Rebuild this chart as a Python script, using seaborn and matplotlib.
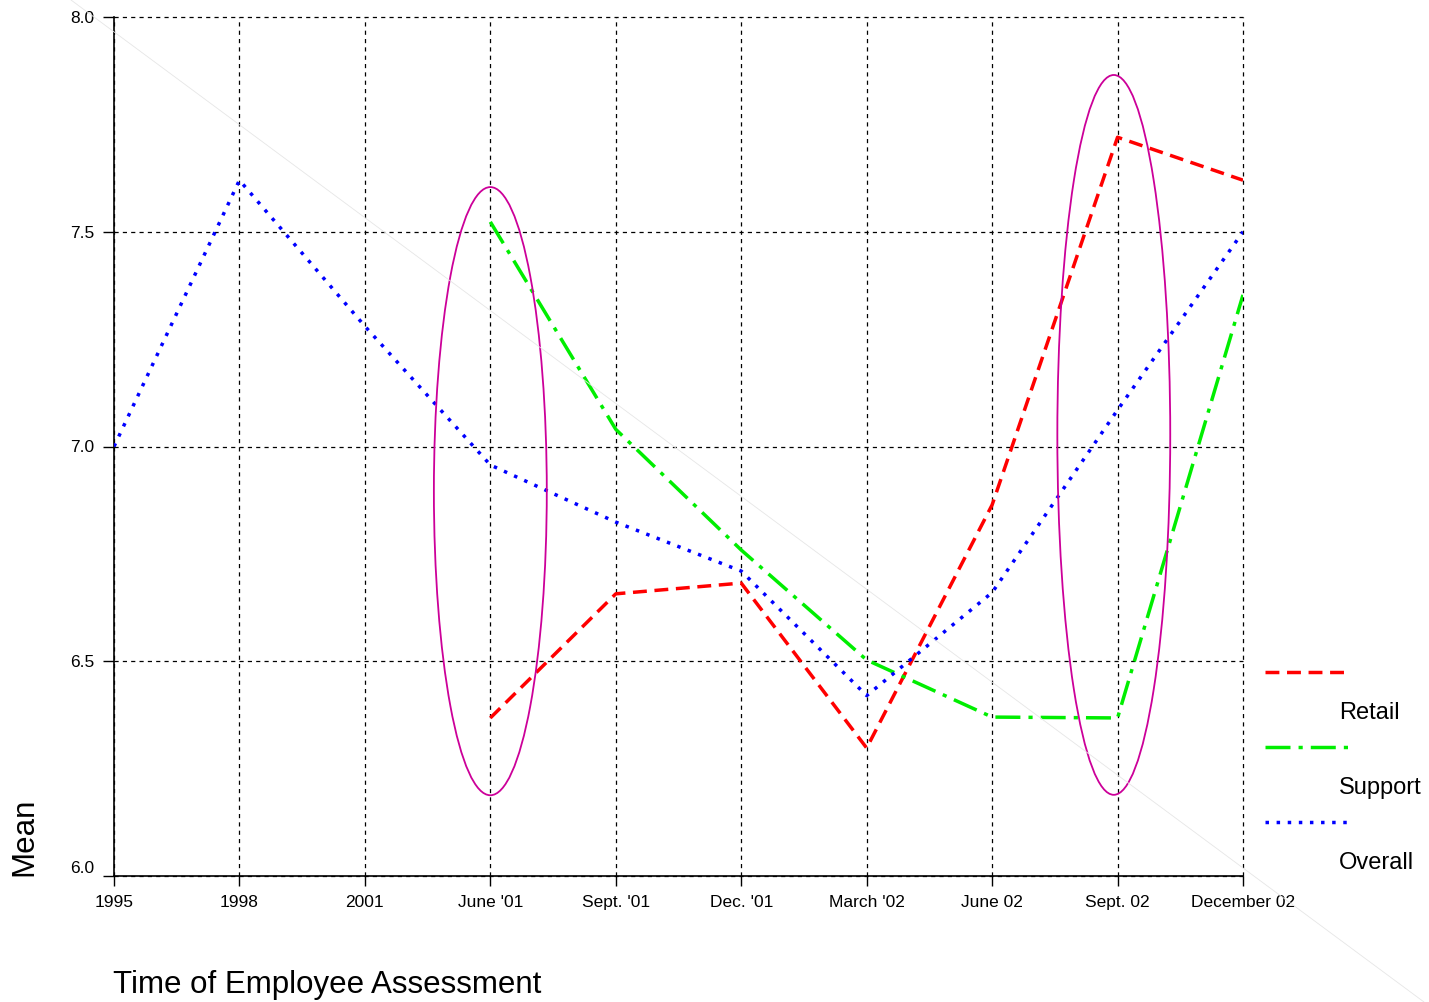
import matplotlib
matplotlib.use("Agg")
import matplotlib.pyplot as plt
from matplotlib.patches import Ellipse
from matplotlib.lines import Line2D
import seaborn as sns
import pandas as pd
import numpy as np

categories = ["1995", "1998", "2001", "June '01", "Sept. '01", "Dec. '01",
              "March '02", "June 02", "Sept. 02", "December 02"]
overall = [7.00, 7.62, 7.28, 6.957, 6.824, 6.71, 6.42, 6.66, 7.085, 7.50]
retail = [None, None, None, 6.368, 6.657, 6.682, 6.298, 6.864, 7.72, 7.62]
support = [None, None, None, 7.523, 7.04, 6.759, 6.503, 6.37, 6.368, 7.353]
series_names = ["Retail", "Support", "Overall"]
y_ticks = [6.0, 6.5, 7.0, 7.5, 8.0]
# highlighted groups (category index, mean centre, spread)
highlights = [(3, 6.896, 1.416), (7.97, 7.027, 1.676)]

rows = []
for name, vals in zip(series_names, [retail, support, overall]):
    for i, v in enumerate(vals):
        if v is not None:
            rows.append({"pos": i, "Mean": v, "Series": name})
df = pd.DataFrame(rows)

sns.set_theme(style="white")
plt.rcParams["font.family"] = ["Liberation Sans", "DejaVu Sans"]
plt.rcParams["lines.scale_dashes"] = False
plt.rcParams["text.color"] = "black"
plt.rcParams["xtick.color"] = "black"
plt.rcParams["ytick.color"] = "black"
plt.rcParams["axes.labelcolor"] = "black"

W, H = 1429, 1002
fig = plt.figure(figsize=(W / 100, H / 100), dpi=100)
ax = fig.add_axes([114 / W, 1 - 876 / H, (1243 - 114) / W, (876 - 17) / H])

palette = {"Retail": "#ff0000", "Support": "#00ee00", "Overall": "#0000ff"}
dashes = {"Retail": (10, 5.5), "Support": (18, 5.8, 3, 5.8), "Overall": (2.5, 5.5)}

sns.lineplot(data=df, x="pos", y="Mean", hue="Series", style="Series",
             palette=palette, dashes=dashes, linewidth=2.5, legend=False,
             ax=ax, zorder=3)

for cx, cy, h in highlights:
    ax.add_patch(Ellipse((cx, cy), width=0.9, height=h, fill=False,
                         edgecolor="#cc0099", linewidth=1.3, zorder=4))

ax.set_xlim(0, len(categories) - 1)
ax.set_ylim(6.0, 8.0)
ax.set_xticks(range(len(categories)))
ax.set_xticklabels(categories, fontsize=12.5)
ax.set_yticks(y_ticks)
ax.set_yticklabels([f"{t:.1f}" for t in y_ticks], fontsize=12.5)
ax.get_yticklabels()[0].set_va("bottom")

ax.grid(True, color="black", linestyle=(0, (3, 3)), linewidth=0.9)
for gl in ax.get_xgridlines() + ax.get_ygridlines():
    gl.set_clip_on(False)
ax.set_axisbelow(True)
for s in ["top", "right"]:
    ax.spines[s].set_visible(False)
for s in ["left", "bottom"]:
    ax.spines[s].set_color("black")
    ax.spines[s].set_linewidth(1.2)

ax.tick_params(axis="y", direction="out", length=8, width=1, color="black",
               pad=6, left=True)
ax.tick_params(axis="x", direction="out", length=7, width=1, color="black",
               pad=7, bottom=True)

ax.set_xlabel("Time of Employee Assessment", fontsize=22.5)
ax.xaxis.label.set_ha("left")
ax.xaxis.label.set_va("center")
ax.xaxis.set_label_coords(-0.001, -(985 - 876) / 859)

ax.set_ylabel("Mean", fontsize=22.5)
ax.yaxis.label.set_rotation_mode("anchor")
ax.yaxis.label.set_ha("left")
ax.yaxis.label.set_va("center")
ax.yaxis.set_label_coords(-(114 - 24) / 1129, 0.0)

# faint diagonal line across the figure
fig.add_artist(Line2D([71 / W, 1424 / W], [1.0, 0.0], transform=fig.transFigure,
                      color="#e6e6e6", linewidth=0.6, zorder=1))

# legend: handle above label
leg_y = [672, 747, 822]
for name, ly in zip(series_names, leg_y):
    fig.add_artist(Line2D([1265 / W, 1348 / W], [1 - ly / H, 1 - ly / H],
                          transform=fig.transFigure, color=palette[name],
                          linewidth=2.5, linestyle=(0, dashes[name])))
    fig.text(1339 / W, 1 - (ly + 41) / H, name, fontsize=17,
             ha="left", va="center")

fig.savefig("out.png", dpi=100)
